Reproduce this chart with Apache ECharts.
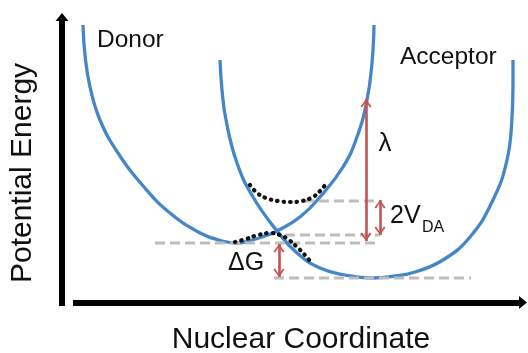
<!DOCTYPE html>
<html><head><meta charset="utf-8">
<script src="https://cdn.jsdelivr.net/npm/echarts@6/dist/echarts.min.js"></script>
<style>html,body{margin:0;padding:0;background:#fff}#c{width:528px;height:353px}</style>
</head><body><div id="c"></div>
<script>
// Nuclear coordinate (x) and potential energy (E) samples
const donorX = [83, 85, 90, 100, 118, 144, 170, 200, 222, 238, 252, 265, 277, 300, 320, 343, 357, 367, 372, 374];
const donorE = [328, 298, 266, 233, 200, 166, 140, 120, 112, 110, 113, 117, 122, 136, 156, 186, 216, 253, 290, 328];
const acceptorX = [220, 222, 226, 237, 253, 277, 297, 320, 345, 372, 395, 415, 443, 470, 493, 507, 512, 513, 513];
const acceptorE = [293, 263, 233, 190, 156, 122, 100, 85, 78, 75, 77, 81, 93, 116, 153, 193, 236, 273, 293];
// adiabatic (dotted) surfaces
const upperX = [250, 257, 266, 278, 290, 302, 313, 320, 326];
const upperE = [168, 160, 155, 152, 151, 152, 156, 162, 169];
const lowerX = [235, 246, 258, 270, 280, 289, 297, 304, 310];
const lowerE = [111, 114, 118, 120, 118, 113, 106, 99, 92];
// energy reference levels (dashed)
const levelE = [152, 118, 110, 75];
const levelFrom = [304, 285, 155, 274];
const levelTo = [379, 380, 379, 471];
// double-headed arrows: lambda, 2V_DA, deltaG
const arrowX = [366, 380, 279];
const arrowLow = [112, 118, 76];
const arrowHigh = [254, 153, 109];

const chart = echarts.init(document.getElementById('c'), null, {renderer: 'canvas'});
const FONT = '"Liberation Sans", Arial, Helvetica, sans-serif';
const BLUE = '#4586c9', RED = '#c7514f', GRAY = '#bdbdbd';
const chevron = 'path://M6,0 L12,10 L10.3,11.2 L6,3.4 L1.7,11.2 L0,10 Z M6,-11.2 L6.01,-11.2 Z';

const series = [];
series.push({type: 'line', name: 'Donor', data: donorX.map((x, i) => [x, donorE[i]]), symbol: 'none', smooth: 0.45,
  lineStyle: {color: BLUE, width: 3.3}, z: 2, silent: true});
series.push({type: 'line', name: 'Acceptor', data: acceptorX.map((x, i) => [x, acceptorE[i]]), symbol: 'none', smooth: 0.45,
  lineStyle: {color: BLUE, width: 3.3}, z: 2, silent: true});
levelE.forEach((e, i) => {
  series.push({type: 'line', data: [[levelFrom[i], e], [levelTo[i], e]], symbol: 'none',
    lineStyle: {color: GRAY, width: 3.2, type: [10, 5]}, z: 3, silent: true});
});
series.push({type: 'line', data: upperX.map((x, i) => [x, upperE[i]]), symbol: 'none', smooth: 0.4,
  lineStyle: {color: '#111', width: 4.2, type: [0.5, 6], cap: 'round'}, z: 4, silent: true});
series.push({type: 'line', data: lowerX.map((x, i) => [x, lowerE[i]]), symbol: 'none', smooth: 0.4,
  lineStyle: {color: '#111', width: 4.2, type: [0.5, 6], cap: 'round'}, z: 4, silent: true});
// red double-headed arrows
series.push({type: 'line', data: [], z: 5, silent: true,
  markLine: {silent: true, animation: false, label: {show: false},
    symbol: [chevron, chevron], symbolSize: [11, 17],
    lineStyle: {color: RED, width: 2.6, type: 'solid'},
    data: arrowX.map((x, i) => [{coord: [x, arrowLow[i]]}, {coord: [x, arrowHigh[i]]}])
  }});
// axes
series.push({type: 'line', data: [], z: 6, silent: true,
  markLine: {silent: true, animation: false, label: {show: false},
    lineStyle: {color: '#000', width: 6, type: 'solid'},
    data: [
      [{coord: [62, 47], symbol: 'none'}, {coord: [62, 336], symbol: 'triangle', symbolSize: [13, 8]}],
      [{coord: [73, 50.5], symbol: 'none'}, {coord: [523, 50.5], symbol: 'triangle', symbolSize: [13, 8]}]
    ]
  }});

const txt = (text, x, y, size, align, rot) => ({
  type: 'text', x: x, y: y, rotation: rot || 0, z: 10, silent: true,
  style: {text: text, font: size + 'px ' + FONT, fill: '#111', align: align || 'left', verticalAlign: 'middle'}
});

chart.setOption({
  animation: false,
  backgroundColor: '#fff',
  grid: {left: 0, right: 0, top: 0, bottom: 0},
  xAxis: {type: 'value', min: 0, max: 528, show: false},
  yAxis: {type: 'value', min: 0, max: 353, show: false},
  series: series,
  graphic: [
    txt('Donor', 97, 40, 24.5),
    txt('Acceptor', 400, 57, 24.5),
    txt('λ', 385, 144, 26, 'center'),
    txt('2V', 390, 216, 25),
    txt('DA', 422, 228, 16),
    txt('ΔG', 228, 263, 25),
    txt('Nuclear Coordinate', 301, 340, 30, 'center'),
    txt('Potential Energy', 23, 173, 30, 'center', Math.PI / 2)
  ]
});
</script></body></html>
